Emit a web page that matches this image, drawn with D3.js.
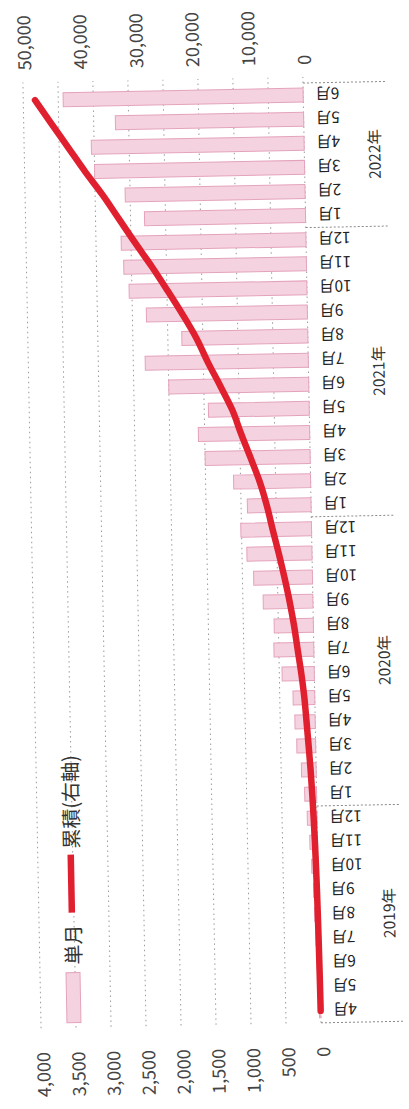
<!DOCTYPE html>
<html>
<head>
<meta charset="utf-8">
<script src="https://cdn.jsdelivr.net/npm/d3@7"></script>
<style>
  html, body { margin: 0; padding: 0; background: #fff; }
  svg { display: block; }
  text { font-family: "Noto Sans CJK JP", "Noto Sans", sans-serif; }
</style>
</head>
<body>
<svg id="chart" width="409" height="1109"></svg>
<script>
// Month labels, April 2019 – June 2022
const months = [
  "4月","5月","6月","7月","8月","9月","10月","11月","12月",
  "1月","2月","3月","4月","5月","6月","7月","8月","9月","10月","11月","12月",
  "1月","2月","3月","4月","5月","6月","7月","8月","9月","10月","11月","12月",
  "1月","2月","3月","4月","5月","6月"
];
const yearLabels = ["2019年", "2020年", "2021年", "2022年"];
const yearMonthCounts = [9, 12, 12, 6];

// Single-month values (left axis)
const monthly = [
  20, 30, 40, 50, 60, 70, 90, 110, 140,
  170, 210, 270, 290, 310, 460, 570, 560, 710, 840, 930, 1010,
  910, 1100, 1500, 1590, 1440, 2000, 2330, 1800, 2300, 2540, 2610, 2640,
  2300, 2570, 3000, 3040, 2690, 3430
];
// Cumulative values (right axis)
const cumulative = [
  20, 50, 90, 140, 200, 270, 360, 470, 610,
  780, 990, 1260, 1550, 1860, 2320, 2890, 3450, 4160, 5000, 5930, 6940,
  7900, 9100, 10650, 12250, 13750, 15800, 17950, 19900, 22300, 24900, 27600, 30500,
  33300, 36100, 39200, 42100, 45000, 47900
];

const leftTicks = [0, 500, 1000, 1500, 2000, 2500, 3000, 3500, 4000];
const rightTicks = [0, 10000, 20000, 30000, 40000, 50000];
const legendBar = "単月";
const legendLine = "累積(右軸)";

// The chart is laid out in its own landscape frame, then turned onto the page.
const W = 1109;
const plot = { left: 84, right: 1024, top: 32, bottom: 312 };

const svg = d3.select("#chart");
const g = svg.append("g")
  .attr("transform", `rotate(-1.1 204.5 554.5) translate(0 ${W}) rotate(-90)`);

const x = d3.scaleBand()
  .domain(d3.range(months.length))
  .range([plot.left, plot.right])
  .paddingInner(0.42)
  .paddingOuter(0.21);
const yL = d3.scaleLinear().domain([0, 4000]).range([plot.bottom, plot.top]);
const yR = d3.scaleLinear().domain([0, 50000]).range([plot.bottom, plot.top]);

// Dotted horizontal gridlines
g.append("g").selectAll("line")
  .data(leftTicks)
  .join("line")
  .attr("x1", plot.left).attr("x2", plot.right + 6)
  .attr("y1", d => yL(d)).attr("y2", d => yL(d))
  .attr("stroke", "#7a7a7a")
  .attr("stroke-width", 1)
  .attr("stroke-dasharray", "1.5 3.5")
  .attr("opacity", 0.75);

// Monthly bars
g.append("g").selectAll("rect")
  .data(monthly)
  .join("rect")
  .attr("x", (d, i) => x(i))
  .attr("width", x.bandwidth())
  .attr("y", d => yL(d))
  .attr("height", d => yL(0) - yL(d))
  .attr("fill", "#f5d2df")
  .attr("stroke", "#e4a3bc")
  .attr("stroke-width", 1);

// Cumulative line
const line = d3.line()
  .x((d, i) => x(i) + x.bandwidth() / 2)
  .y(d => yR(d))
  .curve(d3.curveMonotoneX);
g.append("path")
  .datum(cumulative)
  .attr("d", line)
  .attr("fill", "none")
  .attr("stroke", "#e0202f")
  .attr("stroke-width", 6.5)
  .attr("stroke-linecap", "round");

// Left axis (single month)
const axL = g.append("g")
  .attr("transform", "translate(60,0)")
  .call(d3.axisLeft(yL).tickValues(leftTicks).tickSize(0).tickPadding(0).tickFormat(d3.format(",")));
axL.select(".domain").remove();
axL.selectAll("text")
  .attr("font-size", 18)
  .attr("fill", "#444")
  .attr("dy", null)
  .attr("dominant-baseline", "central");

// Right axis (cumulative)
const axR = g.append("g")
  .attr("transform", "translate(1042,0)")
  .call(d3.axisRight(yR).tickValues(rightTicks).tickSize(0).tickPadding(0).tickFormat(d3.format(",")));
axR.select(".domain").remove();
axR.selectAll("text")
  .attr("font-size", 18)
  .attr("fill", "#444")
  .attr("dy", null)
  .attr("dominant-baseline", "central");

// Month axis, labels turned sideways
const axM = g.append("g")
  .attr("transform", `translate(0,${plot.bottom})`)
  .call(d3.axisBottom(x).tickSize(0).tickPadding(0).tickFormat(i => months[i]));
axM.select(".domain").remove();
axM.selectAll("text")
  .attr("font-size", 15.5)
  .attr("fill", "#222")
  .attr("transform", "rotate(-90)")
  .attr("text-anchor", "end")
  .attr("x", -12)
  .attr("y", 0)
  .attr("dy", null)
  .attr("dominant-baseline", "central");

// Year groups: dividers and labels
let start = 0;
const bounds = [0];
yearMonthCounts.forEach(c => { start += c; bounds.push(start); });
const boundaryX = i => plot.left + i * x.step();
g.append("g").selectAll("line")
  .data(bounds)
  .join("line")
  .attr("x1", d => boundaryX(d)).attr("x2", d => boundaryX(d))
  .attr("y1", plot.bottom).attr("y2", 395)
  .attr("stroke", "#8a8a8a")
  .attr("stroke-dasharray", "2 2")
  .attr("stroke-width", 1);
g.append("g").selectAll("text")
  .data(yearLabels)
  .join("text")
  .attr("x", (d, k) => (boundaryX(bounds[k]) + boundaryX(bounds[k + 1])) / 2)
  .attr("y", 381)
  .attr("text-anchor", "middle")
  .attr("dominant-baseline", "central")
  .attr("font-size", 15.5)
  .attr("fill", "#333")
  .text(d => d);

// Legend
const lg = g.append("g");
lg.append("rect")
  .attr("x", 89).attr("y", 58).attr("width", 50).attr("height", 14)
  .attr("fill", "#f5d2df").attr("stroke", "#e4a3bc");
lg.append("text")
  .attr("x", 147).attr("y", 65)
  .attr("dominant-baseline", "central")
  .attr("font-size", 20).attr("fill", "#333")
  .text(legendBar);
lg.append("line")
  .attr("x1", 199).attr("x2", 257).attr("y1", 65).attr("y2", 65)
  .attr("stroke", "#e0202f").attr("stroke-width", 6.5);
lg.append("text")
  .attr("x", 263).attr("y", 65)
  .attr("dominant-baseline", "central")
  .attr("font-size", 20).attr("fill", "#333")
  .text(legendLine);
</script>
</body>
</html>
